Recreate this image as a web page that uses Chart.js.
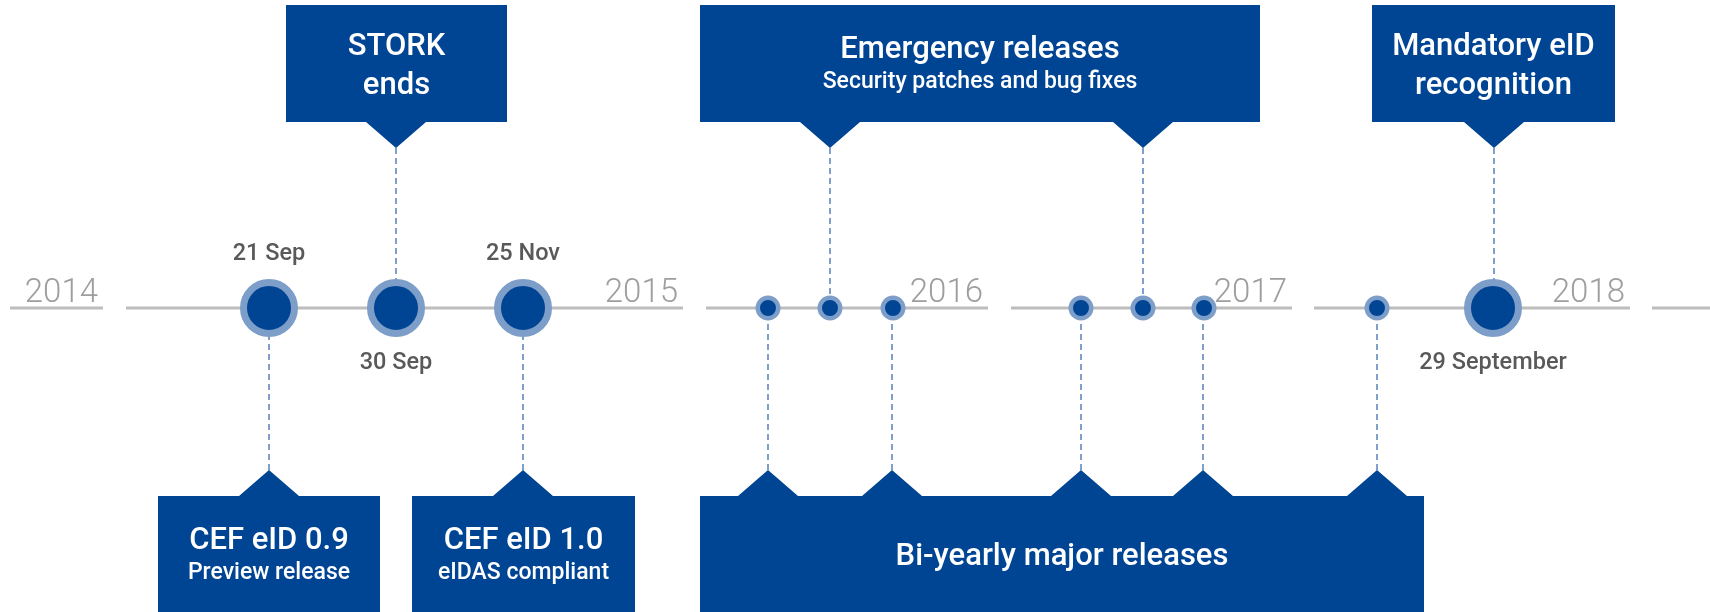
<!DOCTYPE html>
<html>
<head>
<meta charset="utf-8">
<script src="https://cdn.jsdelivr.net/npm/chart.js@4.4.1/dist/chart.umd.min.js"></script>
<style>
  html, body { margin: 0; padding: 0; background: #fff; overflow: hidden; }
  canvas { display: block; }
</style>
</head>
<body>
<canvas id="timeline" width="1710" height="612"></canvas>
<script>
// x and y are timeline units (the artwork was laid out on a 1710 x 612 grid)
const lineY = 308;
const yearLabels = ['2014', '2015', '2016', '2017', '2018'];
const segStarts = [10, 126, 706, 1011, 1314, 1652];
const segEnds = [103, 683, 988, 1292, 1630, 1710];

const milestoneX = [269, 396, 523, 1493];
const milestoneLabels = ['21 Sep', '30 Sep', '25 Nov', '29 September'];
const milestoneAbove = [true, false, true, false];

const releaseX = [768, 830, 893, 1081, 1143, 1204, 1377];

const boxTitles = [['STORK', 'ends'], ['Emergency releases'], ['Mandatory eID', 'recognition'],
                   ['CEF eID 0.9'], ['CEF eID 1.0'], ['Bi-yearly major releases']];
const boxSubtitles = ['', 'Security patches and bug fixes', '', 'Preview release', 'eIDAS compliant', ''];
const boxLeft = [286, 700, 1372, 158, 412, 700];
const boxRight = [507, 1260, 1615, 380, 635, 1424];
const boxTop = [5, 5, 5, 496, 496, 496];
const boxBottom = [122, 122, 122, 612, 612, 612];
const boxPointers = [[396], [830, 1143], [1494], [269], [523], [768, 892, 1081, 1203, 1377]];

const BLUE = '#004494';
const LIGHT = '#7d9ec9';
const tipW = 30, tipH = 26;
const FONT = 'Roboto, "Noto Sans", sans-serif';

// grey timeline, broken at each year
const timeline = [];
segStarts.forEach((s, i) => {
  timeline.push({x: s, y: lineY}, {x: segEnds[i], y: lineY});
  if (i < segStarts.length - 1) timeline.push({x: (segEnds[i] + segStarts[i + 1]) / 2, y: null});
});

// dashed connectors from each box pointer to the timeline
const connectors = [];
boxPointers.forEach((list, b) => {
  const onTop = boxTop[b] < lineY;
  const tipY = onTop ? boxBottom[b] + tipH : boxTop[b] - tipH;
  list.forEach(px => {
    connectors.push({x: px, y: tipY}, {x: px, y: lineY}, {x: px, y: null});
  });
});

const boxPlugin = {
  id: 'boxes',
  beforeDatasetsDraw(chart) {
    const {ctx, scales: {x, y}} = chart;
    ctx.save();
    boxLeft.forEach((l, b) => {
      const L = x.getPixelForValue(l), R = x.getPixelForValue(boxRight[b]);
      const T = y.getPixelForValue(boxTop[b]), B = y.getPixelForValue(boxBottom[b]);
      const onTop = boxTop[b] < lineY;
      const tips = boxPointers[b].slice().sort((a, c) => a - c);
      ctx.fillStyle = BLUE;
      ctx.beginPath();
      if (onTop) {
        ctx.moveTo(L, T);
        ctx.lineTo(R, T);
        ctx.lineTo(R, B);
        tips.reverse().forEach(p => {
          ctx.lineTo(x.getPixelForValue(p + tipW), B);
          ctx.lineTo(x.getPixelForValue(p), y.getPixelForValue(boxBottom[b] + tipH));
          ctx.lineTo(x.getPixelForValue(p - tipW), B);
        });
        ctx.lineTo(L, B);
      } else {
        ctx.moveTo(L, T);
        tips.forEach(p => {
          ctx.lineTo(x.getPixelForValue(p - tipW), T);
          ctx.lineTo(x.getPixelForValue(p), y.getPixelForValue(boxTop[b] - tipH));
          ctx.lineTo(x.getPixelForValue(p + tipW), T);
        });
        ctx.lineTo(R, T);
        ctx.lineTo(R, B);
        ctx.lineTo(L, B);
      }
      ctx.closePath();
      ctx.fill();

      // text, centred in the box
      const lines = boxTitles[b].map(t => ({t, size: 31, weight: 500, gap: 39}));
      if (boxSubtitles[b]) lines.push({t: boxSubtitles[b], size: 23, weight: 500, gap: 33});
      let total = 0;
      lines.forEach((ln, i) => { if (i > 0) total += ln.gap; });
      const cx = (L + R) / 2;
      let cy = (T + B) / 2 - total / 2;
      ctx.fillStyle = '#fff';
      ctx.textAlign = 'center';
      ctx.textBaseline = 'alphabetic';
      lines.forEach((ln, i) => {
        if (i > 0) cy += ln.gap;
        ctx.font = ln.weight + ' ' + ln.size + 'px ' + FONT;
        ctx.fillText(ln.t, cx, cy + ln.size * 0.355);
      });
    });
    ctx.restore();
  },
  afterDatasetsDraw(chart) {
    const {ctx, scales: {x, y}} = chart;
    ctx.save();
    // year labels sit at the end of their segment
    ctx.fillStyle = '#9e9e9e';
    ctx.font = '300 33px ' + FONT;
    ctx.textAlign = 'right';
    ctx.textBaseline = 'alphabetic';
    yearLabels.forEach((t, i) => {
      ctx.fillText(t, x.getPixelForValue(segEnds[i] - 5), y.getPixelForValue(lineY - 6));
    });
    // milestone dates
    ctx.fillStyle = '#595959';
    ctx.font = '500 23.5px ' + FONT;
    ctx.textAlign = 'center';
    milestoneLabels.forEach((t, i) => {
      const ly = milestoneAbove[i] ? lineY - 56 : lineY + 53;
      ctx.fillText(t, x.getPixelForValue(milestoneX[i]), y.getPixelForValue(ly) + 23.5 * 0.355);
    });
    ctx.restore();
  }
};

new Chart(document.getElementById('timeline'), {
  type: 'scatter',
  data: {
    datasets: [
      {
        label: 'Milestones',
        data: milestoneX.map(v => ({x: v, y: lineY})),
        pointRadius: 25.5,
        pointBorderWidth: 7,
        pointBackgroundColor: BLUE,
        pointBorderColor: LIGHT,
        order: 0
      },
      {
        label: 'Releases',
        data: releaseX.map(v => ({x: v, y: lineY})),
        pointRadius: 10.25,
        pointBorderWidth: 4.5,
        pointBackgroundColor: BLUE,
        pointBorderColor: LIGHT,
        order: 1
      },
      {
        label: 'Connectors',
        data: connectors,
        showLine: true,
        spanGaps: false,
        borderColor: '#7fa0cc',
        borderWidth: 2,
        borderDash: [6, 4],
        pointRadius: 0,
        order: 2
      },
      {
        label: 'Timeline',
        data: timeline,
        showLine: true,
        spanGaps: false,
        borderColor: '#bdbdbd',
        borderWidth: 3,
        pointRadius: 0,
        order: 3
      }
    ]
  },
  options: {
    responsive: false,
    animation: false,
    events: [],
    layout: {padding: 0, autoPadding: false},
    plugins: {legend: {display: false}, tooltip: {enabled: false}},
    scales: {
      x: {type: 'linear', min: 0, max: 1710, display: false},
      y: {type: 'linear', min: 0, max: 612, reverse: true, display: false}
    }
  },
  plugins: [boxPlugin]
});
</script>
</body>
</html>
